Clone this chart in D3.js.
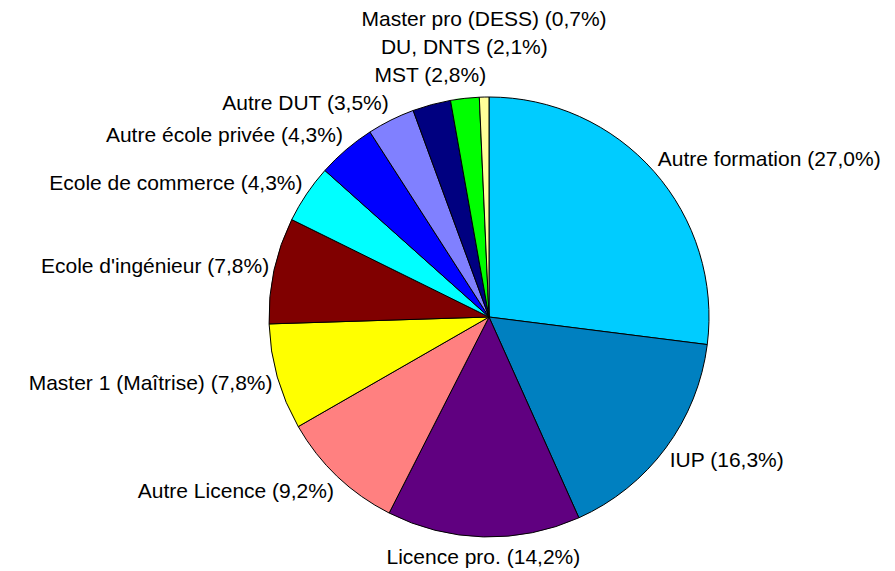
<!DOCTYPE html>
<html>
<head>
<meta charset="utf-8">
<script src="https://cdn.jsdelivr.net/npm/d3@7/dist/d3.min.js"></script>
<style>
  body { margin: 0; background: #fff; }
  text { font-family: "Liberation Sans", Arial, sans-serif; font-size: 21px; fill: #000; }
</style>
</head>
<body>
<svg id="chart" width="895" height="571"></svg>
<script>
// data
var labels = ["Autre formation", "IUP", "Licence pro.", "Autre Licence", "Master 1 (Maîtrise)",
  "Ecole d'ingénieur", "Ecole de commerce", "Autre école privée", "Autre DUT", "MST",
  "DU, DNTS", "Master pro (DESS)"];
var values = [27.0, 16.3, 14.2, 9.2, 7.8, 7.8, 4.3, 4.3, 3.5, 2.8, 2.1, 0.7];
var colors = ["#00CCFF", "#0080C0", "#600080", "#FF8080", "#FFFF00", "#800000",
  "#00FFFF", "#0000FF", "#8080FF", "#000080", "#00FF00", "#FFFF99"];

var width = 895, height = 571,
    cx = 489, cy = 317, radius = 220;

var svg = d3.select("#chart");
var g = svg.append("g").attr("transform", "translate(" + cx + "," + cy + ")");

var pie = d3.pie().sort(null).value(function(d) { return d; });
var arc = d3.arc().innerRadius(0).outerRadius(radius);
var arcs = pie(values);

g.selectAll("path")
  .data(arcs)
  .enter().append("path")
  .attr("d", arc)
  .attr("fill", function(d, i) { return colors[i]; })
  .attr("stroke", "#000")
  .attr("stroke-width", 1);

// labels: placed just outside the slice, stacked when they clash
var fmt = function(v) { return v.toFixed(1).replace(".", ","); };
var xr = radius + 5, yr = radius + 20, lineH = 28, textH = 24;
var placed = [];

arcs.forEach(function(d, i) {
  var a = (d.startAngle + d.endAngle) / 2;
  var s = Math.sin(a), c = Math.cos(a);
  var x = xr * s, y = -yr * c;
  var anchor = s > 0.3 ? "start" : (s < -0.3 ? "end" : "middle");

  var t = g.append("text")
    .attr("text-anchor", anchor)
    .attr("dy", "0.35em")
    .text(labels[i] + " (" + fmt(values[i]) + "%)");
  var w = t.node().getComputedTextLength();
  var x0 = anchor === "start" ? x : (anchor === "end" ? x - w : x - w / 2);

  var moved = true;
  while (moved) {
    moved = false;
    placed.forEach(function(p) {
      var hOver = x0 < p.x0 + p.w && p.x0 < x0 + w;
      if (hOver && Math.abs(p.y - y) < textH) {
        y = c > 0 ? p.y - lineH : p.y + lineH;
        moved = true;
      }
    });
  }
  placed.push({ x0: x0, w: w, y: y });
  t.attr("x", x).attr("y", y);
});
</script>
</body>
</html>
